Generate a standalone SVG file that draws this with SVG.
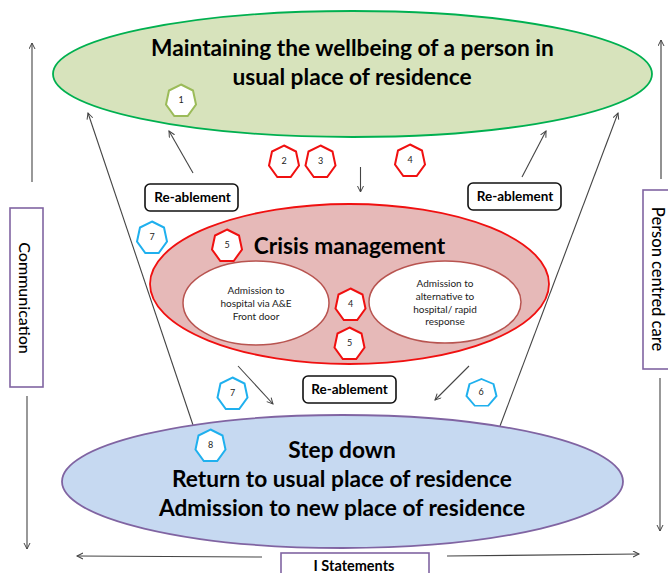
<svg xmlns="http://www.w3.org/2000/svg" width="668" height="573" viewBox="0 0 668 573">
<style>
text{font-family:Lato,"Liberation Sans",sans-serif;fill:#000;text-anchor:middle}
.h{font-size:22.7px;font-weight:700}
.lab{font-size:13.500px;font-weight:700}
.s{font-size:10px;fill:#222}
.n{font-size:9px;fill:#222}
.side{font-size:16px;font-weight:500}
.c{fill:none;stroke:#444;stroke-width:1.1;marker-end:url(#a)}
.hep{fill:#fff;stroke-width:2}
.r{stroke:#f01010}.b{stroke:#1fb0ee}.g{stroke:#9bbb59}
.box{fill:#fff;stroke:#8064a2;stroke-width:1.6}
.re{fill:#fff;stroke:#111;stroke-width:1.6}
.in{fill:#fff;stroke:#b85450;stroke-width:1.5}
</style>
<defs>
<marker id="a" markerWidth="8" markerHeight="8" refX="6.500" refY="3.500" orient="auto" markerUnits="userSpaceOnUse"><path d="M0.500 0.500L6.500 3.500L0.500 6.500" fill="none" stroke="#444" stroke-width="1"/></marker>
<polygon id="h" points="0,-16.500 12,-10.500 15,3.500 6.700,15 -6.700,15 -15,3.500 -12,-10.500"/>
</defs>
<g id="connectors">
<path class="c" d="M32 182V43"/>
<path class="c" d="M193 425L88 113"/>
<path class="c" d="M193 173L169 131"/>
<path class="c" d="M360.500 167V192"/>
<path class="c" d="M522 177L546 131"/>
<path class="c" d="M500 426L618 113"/>
<path class="c" style="stroke:#777;stroke-width:1.600" d="M661 179V40"/>
<path class="c" d="M238 366L273 404"/>
<path class="c" d="M469 366L435 400"/>
<path class="c" d="M27 396V549"/>
<path class="c" d="M660 378V531"/>
<path class="c" d="M262 557L77 556"/>
<path class="c" d="M447 556L639 554"/>
</g>
<g id="node-wellbeing"><ellipse cx="352.500" cy="74" rx="299.500" ry="63" fill="#d7e3bc" stroke="#00b050" stroke-width="1.800"/>
<text class="h" x="352.500" y="56">Maintaining the wellbeing of a person in</text>
<text class="h" x="352" y="85">usual place of residence</text></g>
<g id="node-crisis"><ellipse cx="349.500" cy="284" rx="199.500" ry="80" fill="#e6b9b8" stroke="#f01010" stroke-width="1.800"/>
<text class="h" x="349.500" y="254">Crisis management</text></g>
<g id="node-hospital"><ellipse class="in" cx="256" cy="303" rx="73" ry="42"/>
<text class="s" x="256" y="294">Admission to</text><text class="s" x="256" y="307">hospital via A&amp;E</text><text class="s" x="256" y="320">Front door</text></g>
<g id="node-alternative"><ellipse class="in" cx="445" cy="302" rx="76" ry="41"/>
<text class="s" x="445" y="287">Admission to</text><text class="s" x="445" y="300">alternative to</text><text class="s" x="445" y="313">hospital/ rapid</text><text class="s" x="445" y="325">response</text></g>
<g id="node-stepdown"><ellipse cx="342.500" cy="481.500" rx="280.500" ry="66.500" fill="#c6d9f1" stroke="#8064a2" stroke-width="1.800"/>
<text class="h" x="342" y="458">Step down</text><text class="h" x="342" y="487">Return to usual place of residence</text><text class="h" x="342" y="516">Admission to new place of residence</text></g>
<g id="node-reablement-left"><rect class="re" x="145" y="184" width="93" height="27" rx="5"/><text class="lab" x="192.500" y="202">Re-ablement</text></g>
<g id="node-reablement-right"><rect class="re" x="468" y="183" width="93" height="27" rx="5"/><text class="lab" x="515" y="201">Re-ablement</text></g>
<g id="node-reablement-bottom"><rect class="re" x="303" y="376" width="93" height="27" rx="5"/><text class="lab" x="349.500" y="394">Re-ablement</text></g>
<g id="node-communication"><rect class="box" x="10" y="208" width="33" height="179"/><text class="side" transform="translate(19,298) rotate(90)">Communication</text></g>
<g id="node-person"><rect class="box" x="643" y="190" width="33" height="179"/><text class="side" style="font-size:16.500px" transform="translate(652,279) rotate(90)">Person centred care</text></g>
<g id="node-statements"><rect class="box" x="281" y="553" width="148" height="30"/><text class="lab" style="font-size:14.500px" x="354" y="571">I Statements</text></g>
<g id="badge-1"><use href="#h" x="181" y="101" class="hep g"/><text class="n" x="181" y="103">1</text></g>
<g id="badge-2"><use href="#h" x="284" y="162" class="hep r"/><text class="n" x="284" y="164">2</text></g>
<g id="badge-3"><use href="#h" x="320.500" y="162" class="hep r"/><text class="n" x="320.500" y="164">3</text></g>
<g id="badge-4a"><use href="#h" x="410" y="161" class="hep r"/><text class="n" x="410" y="163">4</text></g>
<g id="badge-7a"><use href="#h" x="152" y="238" class="hep b"/><text class="n" x="152" y="240">7</text></g>
<g id="badge-5a"><use href="#h" x="227" y="246" class="hep r"/><text class="n" x="227" y="248">5</text></g>
<g id="badge-4b"><use href="#h" x="350.500" y="305" class="hep r"/><text class="n" x="350.500" y="307">4</text></g>
<g id="badge-5b"><use href="#h" x="349.500" y="344" class="hep r"/><text class="n" x="349.500" y="346">5</text></g>
<g id="badge-7b"><use href="#h" x="232.500" y="394" class="hep b"/><text class="n" x="232.500" y="396">7</text></g>
<g id="badge-6"><g transform="translate(481.500,393) scale(1,0.85)"><use href="#h" class="hep b"/></g><text class="n" x="481" y="395">6</text></g>
<g id="badge-8"><use href="#h" x="210.500" y="446" class="hep b"/><text class="n" x="210.500" y="448">8</text></g>
</svg>
